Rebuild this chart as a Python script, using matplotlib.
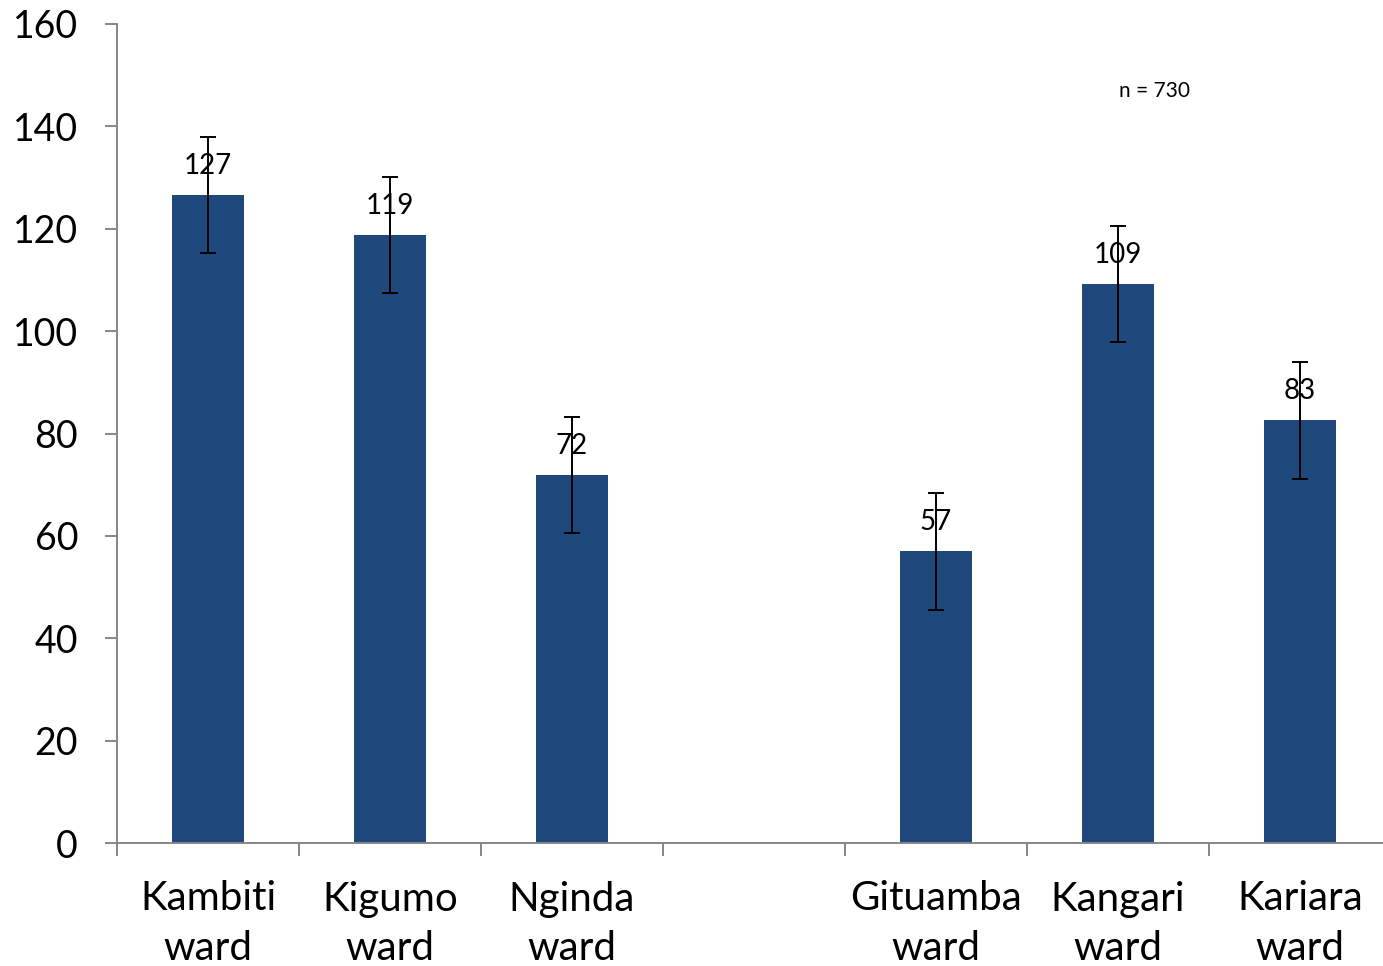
import matplotlib
matplotlib.use('Agg')
import matplotlib.pyplot as plt
import numpy as np

# data (empty slot between the two ward groups)
wards = ['Kambiti\nward', 'Kigumo\nward', 'Nginda\nward', '', 'Gituamba\nward', 'Kangari\nward', 'Kariara\nward']
counts = [126.6, 118.8, 71.9, None, 57.0, 109.2, 82.6]
errors = [11.4, 11.4, 11.4, None, 11.4, 11.4, 11.4]
note = 'n = 730'

plt.rcParams['font.family'] = ['Lato', 'DejaVu Sans']

fig = plt.figure(figsize=(13.83, 9.66), dpi=100)
ax = fig.add_axes([117/1383, 1 - 843/966, (1391-117)/1383, (843-24)/966])

bar_color = '#1f497d'
axis_color = '#868686'

x = np.arange(len(wards))
xs = [xi for xi, c in zip(x, counts) if c is not None]
ys = [c for c in counts if c is not None]
es = [e for e in errors if e is not None]

ax.bar(xs, ys, width=0.4, color=bar_color, zorder=2)
ax.errorbar(xs, ys, yerr=es, fmt='none', ecolor='black', elinewidth=1.4,
            capsize=5.8, capthick=1.4, zorder=3)

for xi, yi in zip(xs, ys):
    ax.annotate('%d' % round(yi), (xi, yi), xytext=(0, 15), textcoords='offset points',
                ha='center', va='baseline', fontsize=20, zorder=4)

ax.text(5.2, 147, note, ha='center', va='center', fontsize=15)

ax.set_xlim(-0.5, len(wards) - 0.5)
ax.set_ylim(0, 160)
ax.set_yticks(range(0, 161, 20))
ax.set_xticks(x)
ax.set_xticklabels(wards, fontsize=29, linespacing=1.4)
ax.set_xticks(np.arange(-0.5, len(wards), 1.0), minor=True)

ax.tick_params(axis='x', which='major', length=0, pad=27)
ax.tick_params(axis='x', which='minor', length=9, width=1.4, color=axis_color, direction='out')
ax.tick_params(axis='y', length=9, width=1.4, color=axis_color, labelsize=27, pad=19)

for s in ['top', 'right']:
    ax.spines[s].set_visible(False)
for s in ['left', 'bottom']:
    ax.spines[s].set_color(axis_color)
    ax.spines[s].set_linewidth(1.4)

fig.savefig('out.png', dpi=100)
